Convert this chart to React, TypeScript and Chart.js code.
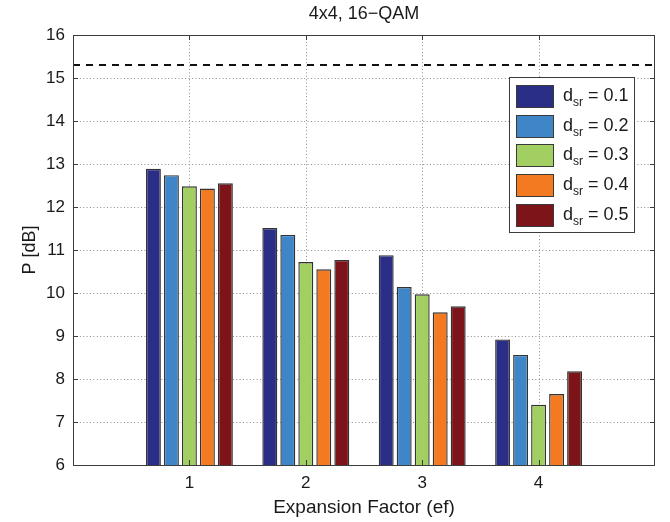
import React, { useEffect, useRef } from "react";
import { Chart, registerables } from "chart.js";

Chart.register(...registerables);

// ---- data ----
const categories = [1, 2, 3, 4];
const seriesNames = ["0.1", "0.2", "0.3", "0.4", "0.5"];
const dsr01 = [12.89, 11.51, 10.88, 8.92];
const dsr02 = [12.74, 11.35, 10.14, 8.56];
const dsr03 = [12.48, 10.72, 9.97, 7.4];
const dsr04 = [12.43, 10.55, 9.55, 7.65];
const dsr05 = [12.55, 10.77, 9.69, 8.18];
const referenceLevel = 15.3;
const xRange = [0, 5];
const yRange = [6, 16];
const yTickValues = [6, 7, 8, 9, 10, 11, 12, 13, 14, 15, 16];
const titleText = "4x4, 16\u2212QAM";
const xTitle = "Expansion Factor (ef)";
const yTitle = "P [dB]";

const seriesValues = [dsr01, dsr02, dsr03, dsr04, dsr05];
const seriesColors = ["#2a2e86", "#3f86c8", "#a2cf62", "#f47a21", "#7c1419"];

const FONT = "'Liberation Sans', Arial, Helvetica, sans-serif";

const gridPlugin = {
  id: "matlabGrid",
  beforeDatasetsDraw(chart: any) {
    const { ctx, chartArea, scales } = chart;
    const { left, right, top, bottom } = chartArea;
    ctx.save();
    ctx.strokeStyle = "#8c8c8c";
    ctx.lineWidth = 1;
    ctx.setLineDash([1, 2.4]);
    yTickValues.forEach((v) => {
      if (v <= yRange[0] || v >= yRange[1]) return;
      const y = Math.round(scales.y.getPixelForValue(v)) + 0.5;
      ctx.beginPath();
      ctx.moveTo(left, y);
      ctx.lineTo(right, y);
      ctx.stroke();
    });
    categories.forEach((c) => {
      const x = Math.round(scales.x.getPixelForValue(c)) + 0.5;
      ctx.beginPath();
      ctx.moveTo(x, top);
      ctx.lineTo(x, bottom);
      ctx.stroke();
    });
    ctx.restore();
  },
};

const overlayPlugin = {
  id: "overlay",
  afterDraw(chart: any) {
    const { ctx, chartArea, scales } = chart;
    const { left, right, top, bottom } = chartArea;
    ctx.save();
    // axes box
    ctx.strokeStyle = "#3c3c3c";
    ctx.lineWidth = 1;
    ctx.setLineDash([]);
    ctx.strokeRect(left + 0.5, top + 0.5, right - left - 1, bottom - top);
    // inward ticks
    const tl = 5;
    ctx.beginPath();
    yTickValues.forEach((v) => {
      const y = Math.round(scales.y.getPixelForValue(v)) + 0.5;
      ctx.moveTo(left, y);
      ctx.lineTo(left + tl, y);
      ctx.moveTo(right, y);
      ctx.lineTo(right - tl, y);
    });
    categories.forEach((c) => {
      const x = Math.round(scales.x.getPixelForValue(c)) + 0.5;
      ctx.moveTo(x, bottom);
      ctx.lineTo(x, bottom - tl);
      ctx.moveTo(x, top);
      ctx.lineTo(x, top + tl);
    });
    ctx.stroke();

    // title
    ctx.fillStyle = "#1a1a1a";
    ctx.font = `18px ${FONT}`;
    ctx.textAlign = "center";
    ctx.textBaseline = "middle";
    ctx.fillText(titleText, (left + right) / 2, top - 21);

    // legend
    const boxRight = right - 21;
    const boxLeft = boxRight - 125;
    const boxTop = top + 42;
    const boxBottom = boxTop + 155;
    ctx.fillStyle = "#ffffff";
    ctx.fillRect(boxLeft, boxTop, boxRight - boxLeft, boxBottom - boxTop);
    ctx.strokeStyle = "#3c3c3c";
    ctx.lineWidth = 1;
    ctx.strokeRect(boxLeft + 0.5, boxTop + 0.5, boxRight - boxLeft, boxBottom - boxTop);
    const pitch = 29.7;
    seriesNames.forEach((name, i) => {
      const sy = Math.round(boxTop + 8 + i * pitch);
      ctx.fillStyle = seriesColors[i];
      ctx.fillRect(boxLeft + 7, sy, 38, 23);
      ctx.strokeStyle = "#3a3a3a";
      ctx.strokeRect(boxLeft + 7.5, sy + 0.5, 37, 22);
      const cy = sy + 11.5;
      let tx = boxLeft + 54;
      ctx.fillStyle = "#1a1a1a";
      ctx.textAlign = "left";
      ctx.textBaseline = "middle";
      ctx.font = `18px ${FONT}`;
      ctx.fillText("d", tx, cy);
      tx += ctx.measureText("d").width;
      ctx.font = `12px ${FONT}`;
      ctx.fillText("sr", tx, cy + 6);
      tx += ctx.measureText("sr").width;
      ctx.font = `18px ${FONT}`;
      ctx.fillText(" = " + name, tx, cy);
    });
    ctx.restore();
  },
};

export default function App() {
  const ref = useRef<HTMLCanvasElement | null>(null);
  useEffect(() => {
    if (!ref.current) return;
    const barSets = seriesValues.map((vals, i) => ({
      type: "bar" as const,
      label: "d_sr = " + seriesNames[i],
      data: categories.map((c, j) => ({ x: c, y: vals[j] })),
      backgroundColor: seriesColors[i],
      borderColor: "#333333",
      borderWidth: 1.4,
      categoryPercentage: 0.773,
      barPercentage: 0.83,
      order: 2,
    }));
    const chart = new Chart(ref.current, {
      type: "bar",
      data: {
        datasets: [
          ...barSets,
          {
            type: "line" as const,
            label: "ref",
            data: [
              { x: xRange[0], y: referenceLevel },
              { x: xRange[1], y: referenceLevel },
            ],
            borderColor: "#111111",
            borderWidth: 2,
            borderDash: [7, 6],
            pointRadius: 0,
            fill: false,
            order: 1,
          } as any,
        ],
      },
      options: {
        animation: false,
        responsive: false,
        maintainAspectRatio: false,
        layout: { padding: { top: 35, right: 15, left: 0, bottom: 0 } },
        plugins: {
          legend: { display: false },
          tooltip: { enabled: false },
          title: { display: false },
        },
        scales: {
          x: {
            type: "linear",
            min: xRange[0],
            max: xRange[1],
            offset: false,
            afterFit: (s: any) => {
              s.height = 57;
            },
            ticks: {
              stepSize: 1,
              color: "#1a1a1a",
              font: { family: FONT, size: 17 },
              padding: 8,
              callback: (v: any) => (categories.includes(Number(v)) ? String(v) : ""),
            },
            grid: { display: false, drawTicks: false },
            border: { display: false },
            title: {
              display: true,
              text: xTitle,
              color: "#1a1a1a",
              font: { family: FONT, size: 19 },
              padding: { top: 0, bottom: 3 },
            },
          },
          y: {
            type: "linear",
            min: yRange[0],
            max: yRange[1],
            afterFit: (s: any) => {
              s.width = 73;
            },
            ticks: {
              stepSize: 1,
              color: "#1a1a1a",
              font: { family: FONT, size: 17 },
              padding: 8,
            },
            grid: { display: false, drawTicks: false },
            border: { display: false },
            title: {
              display: true,
              text: yTitle,
              color: "#1a1a1a",
              font: { family: FONT, size: 18 },
              padding: { top: 19, bottom: 0 },
            },
          },
        },
      } as any,
      plugins: [gridPlugin, overlayPlugin],
    });
    return () => chart.destroy();
  }, []);
  return (
    <div style={{ position: "absolute", left: 0, top: 0, width: 670, height: 522, background: "#fff" }}>
      <canvas ref={ref} width={670} height={522} style={{ width: 670, height: 522, display: "block" }} />
    </div>
  );
}
